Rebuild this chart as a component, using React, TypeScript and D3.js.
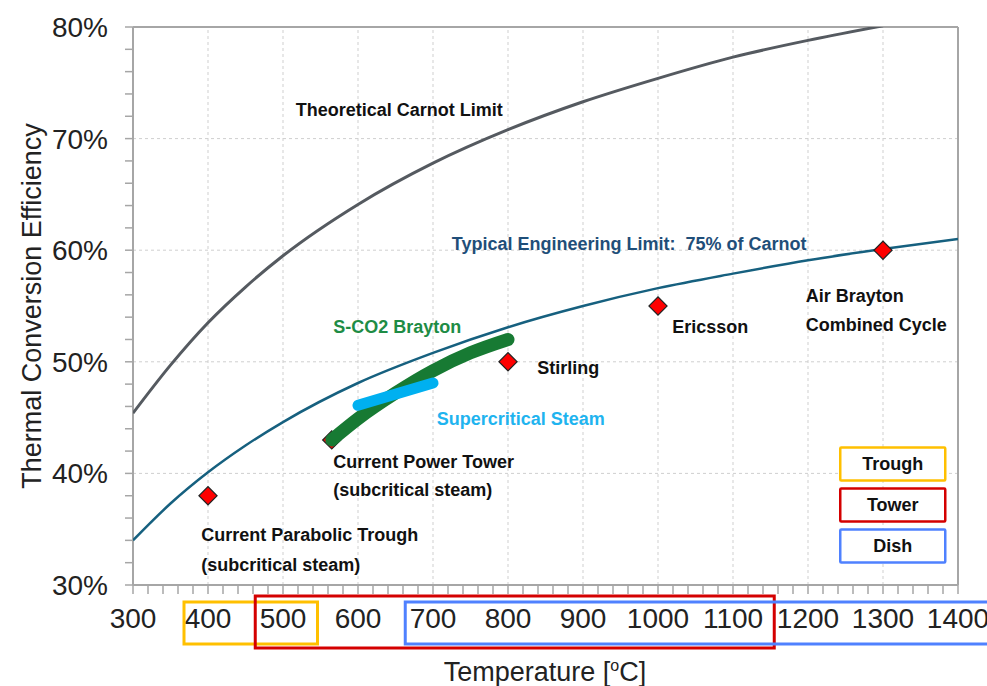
import React from "react";
import * as d3 from "d3";

const W = 987;
const H = 686;
const NARROW = "'Liberation Sans Narrow', 'Arial Narrow', 'Liberation Sans', sans-serif";

// x ticks (°C) and y ticks (%)
const xTicks = [300, 400, 500, 600, 700, 800, 900, 1000, 1100, 1200, 1300, 1400];
const yTicks = [30, 40, 50, 60, 70, 80];

// Theoretical Carnot limit
const carnotTemp = [300, 350, 400, 450, 500, 600, 700, 800, 900, 1000, 1100, 1200, 1300];
const carnotEff = [45.4, 49.7, 53.5, 56.7, 59.5, 64.1, 67.8, 70.8, 73.3, 75.4, 77.3, 78.8, 80.1];

// Typical engineering limit: 75% of Carnot
const engTemp = [300, 350, 400, 450, 500, 600, 700, 800, 900, 1000, 1100, 1200, 1300, 1400];
const engEff = [34.0, 37.3, 40.1, 42.5, 44.6, 48.1, 50.8, 53.1, 55.0, 56.6, 57.9, 59.1, 60.1, 61.0];

// S-CO2 Brayton band
const sco2Temp = [565, 600, 650, 700, 750, 800];
const sco2Eff = [43.0, 44.9, 47.2, 49.2, 50.8, 52.0];

// Supercritical steam band
const scsTemp = [600, 700];
const scsEff = [46.1, 48.1];

// Systems (diamonds)
const pointTemp = [400, 565, 800, 1000, 1300];
const pointEff = [38, 43, 50, 55, 60];

// Technology ranges on x axis
const rangeNames = ["Trough", "Tower", "Dish"];
const rangeFrom = [368, 463, 663];
const rangeTo = [546, 1155, 1480];
const rangeColors = ["#ffc000", "#d40000", "#4f81ff"];

// Annotations (anchors in data units)
const labels = [
  { text: "Theoretical Carnot Limit", t: 517, e: 72.0, color: "#111", size: 18 },
  { text: "Typical Engineering Limit:\u00a0\u00a075% of Carnot", t: 725, e: 60.0, color: "#1f4e79", size: 18 },
  { text: "S-CO2 Brayton", t: 567, e: 52.6, color: "#1e8c45", size: 18 },
  { text: "Stirling", t: 839, e: 48.9, color: "#111", size: 18 },
  { text: "Ericsson", t: 1019, e: 52.6, color: "#111", size: 18 },
  { text: "Air Brayton", t: 1197, e: 55.4, color: "#111", size: 18 },
  { text: "Combined Cycle", t: 1197, e: 52.8, color: "#111", size: 18 },
  { text: "Supercritical Steam", t: 705, e: 44.3, color: "#1fb4ef", size: 18 },
  { text: "Current Power Tower", t: 567, e: 40.5, color: "#111", size: 18 },
  { text: "(subcritical steam)", t: 567, e: 38.0, color: "#111", size: 18 },
  { text: "Current Parabolic Trough", t: 391, e: 33.9, color: "#111", size: 18 },
  { text: "(subcritical steam)", t: 391, e: 31.25, color: "#111", size: 18 },
];

export default function App() {
  const margin = { left: 133, right: W - 958, top: 27, bottom: H - 585 };
  const x = d3.scaleLinear().domain([300, 1400]).range([margin.left, W - margin.right]);
  const y = d3.scaleLinear().domain([30, 80]).range([H - margin.bottom, margin.top]);

  const line = d3
    .line<[number, number]>()
    .x((d) => x(d[0]))
    .y((d) => y(d[1]))
    .curve(d3.curveMonotoneX);

  const carnot = carnotTemp.map((t, i) => [t, carnotEff[i]] as [number, number]);
  const eng = engTemp.map((t, i) => [t, engEff[i]] as [number, number]);
  const sco2 = sco2Temp.map((t, i) => [t, sco2Eff[i]] as [number, number]);
  const scs = scsTemp.map((t, i) => [t, scsEff[i]] as [number, number]);

  const minorX = d3.range(300, 1401, 20);
  const minorY = d3.range(30, 80.1, 2);
  const diamond = d3.symbol().type(d3.symbolSquare).size(165)();

  const x0 = x(300), x1 = x(1400), y0 = y(30), y1 = y(80);
  const axisColor = "#a6a6a6";

  return (
    <svg width={W} height={H} style={{ position: "absolute", left: 0, top: 0, background: "#fff" }}>
      <defs>
        <clipPath id="plot">
          <rect x={x0} y={y1} width={x1 - x0} height={y0 - y1} />
        </clipPath>
      </defs>
      {/* grid */}
      {xTicks.slice(1, -1).map((t) => (
        <line key={"gx" + t} x1={x(t)} x2={x(t)} y1={y0} y2={y1} stroke="#cfcfcf" strokeDasharray="3,3" strokeWidth={1} />
      ))}
      {yTicks.slice(1, -1).map((t) => (
        <line key={"gy" + t} x1={x0} x2={x1} y1={y(t)} y2={y(t)} stroke="#cfcfcf" strokeDasharray="3,3" strokeWidth={1} />
      ))}
      {/* frame */}
      <line x1={x0} x2={x1} y1={y1} y2={y1} stroke={axisColor} strokeWidth={2} />
      <line x1={x1} x2={x1} y1={y1} y2={y0} stroke={axisColor} strokeWidth={2} />
      <line x1={x0} x2={x0} y1={y1} y2={y0} stroke={axisColor} strokeWidth={2} />
      <line x1={x0} x2={x1} y1={y0} y2={y0} stroke={axisColor} strokeWidth={2} />
      {minorY.map((t) => (
        <line key={"ty" + t} x1={x0 - 8} x2={x0} y1={y(t)} y2={y(t)} stroke={axisColor} strokeWidth={1.5} />
      ))}
      {minorX.map((t) => (
        <line key={"tx" + t} x1={x(t)} x2={x(t)} y1={y0} y2={y0 + 9} stroke={axisColor} strokeWidth={1.5} />
      ))}
      {/* tick labels */}
      {yTicks.map((t) => (
        <text key={"ly" + t} x={x0 - 25} y={y(t)} dy="0.36em" textAnchor="end" fontFamily={NARROW} fontSize={28} fill="#222">
          {t}%
        </text>
      ))}
      {xTicks.map((t) => (
        <text key={"lx" + t} x={x(t)} y={y0 + 43} textAnchor="middle" fontFamily={NARROW} fontSize={28} fill="#222">
          {t}
        </text>
      ))}
      {/* range boxes */}
      {rangeNames.map((n, i) => {
        const top = i === 1 ? y0 + 11 : y0 + 17;
        const bot = i === 1 ? y0 + 63 : y0 + 59;
        return (
          <rect key={"rb" + n} x={x(rangeFrom[i])} y={top} width={x(rangeTo[i]) - x(rangeFrom[i])} height={bot - top}
            fill="none" stroke={rangeColors[i]} strokeWidth={3} />
        );
      })}
      {/* axis titles */}
      <text x={545} y={H - 5} textAnchor="middle" fontFamily={NARROW} fontSize={27} fill="#222">
        Temperature [<tspan dy={-10} fontSize={16}>o</tspan><tspan dy={10}>C]</tspan>
      </text>
      <text transform={`translate(41, ${(y0 + y1) / 2}) rotate(-90)`} textAnchor="middle" fontFamily={NARROW} fontSize={27} fill="#222">
        Thermal Conversion Efficiency
      </text>
      {/* curves */}
      <g clipPath="url(#plot)">
        <path d={line(carnot) || ""} fill="none" stroke="#555a60" strokeWidth={3} />
        <path d={line(eng) || ""} fill="none" stroke="#16607f" strokeWidth={2.5} />
      </g>
      {/* points */}
      {pointTemp.map((t, i) => (
        <path key={"p" + t} d={diamond || ""} transform={`translate(${x(t)},${y(pointEff[i])}) rotate(45)`} fill="#ff0000" stroke="#222" strokeWidth={1.2} />
      ))}
      {/* bands */}
      <path d={line(sco2) || ""} fill="none" stroke="#177a33" strokeWidth={13} strokeLinecap="round" />
      <path d={line(scs) || ""} fill="none" stroke="#00b0f0" strokeWidth={11} strokeLinecap="round" />
      {/* annotations */}
      {labels.map((l, i) => (
        <text key={"a" + i} x={x(l.t)} y={y(l.e)} fontFamily={NARROW} fontWeight="bold" fontSize={l.size} fill={l.color}>
          {l.text}
        </text>
      ))}
      {/* legend */}
      {rangeNames.map((n, i) => {
        const ly = y(40) - 26 + i * 41;
        return (
          <g key={"lg" + n}>
            <rect x={x(1243)} y={ly} width={x(1383) - x(1243)} height={33} fill="#fff" stroke={rangeColors[i]} strokeWidth={2.5} rx={1} />
            <text x={(x(1243) + x(1383)) / 2} y={ly + 23} textAnchor="middle" fontFamily={NARROW} fontWeight="bold" fontSize={18} fill="#111">
              {n}
            </text>
          </g>
        );
      })}
    </svg>
  );
}
